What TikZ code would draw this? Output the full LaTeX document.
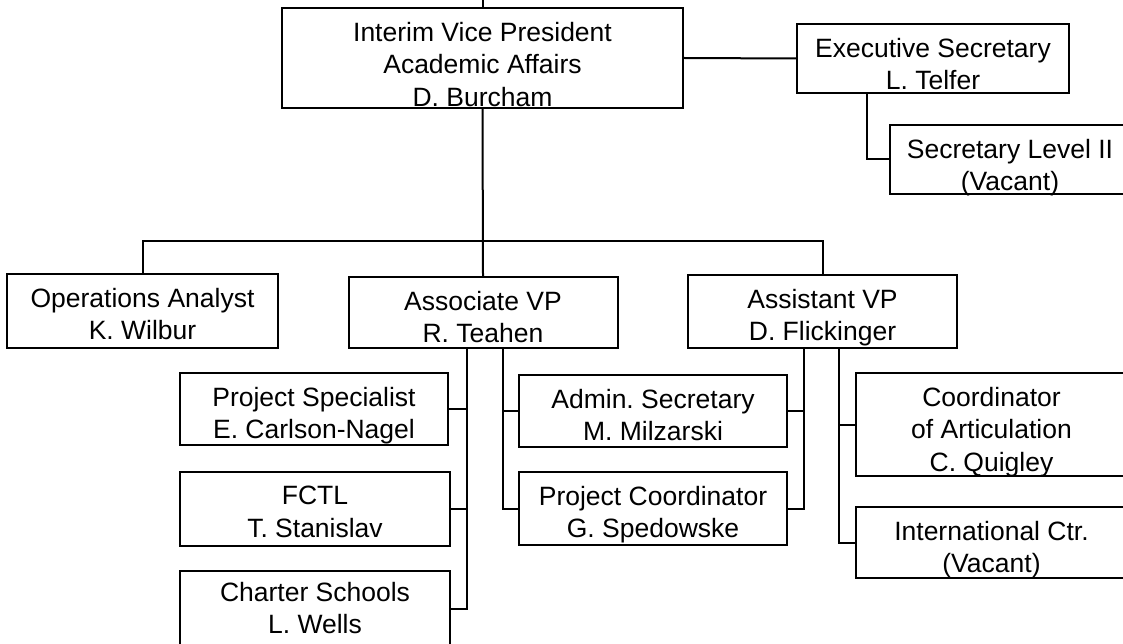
\documentclass[tikz,border=0pt]{standalone}
\usepackage{fontspec}
\setmainfont{Liberation Sans}
\usepackage{tikz}
\frenchspacing

\begin{document}
\begin{tikzpicture}[x=1pt, y=-1pt,
	box/.style={draw, line width=2pt, inner sep=0pt},
	txt/.style={anchor=north, yshift=-15pt, inner sep=0pt, align=center, font=\fontsize{26.5}{32.5}\selectfont},
	link/.style={line width=2pt}]
	\useasboundingbox (0,0) rectangle (1123,644);
	\clip (0,0) rectangle (1123,644);
	\node[box, minimum width=401pt, minimum height=100pt, label={[txt]north:{Interim Vice President\\Academic Affairs\\D. Burcham}}] (vp) at (482.5,58) {};
	\node[box, minimum width=272pt, minimum height=69pt, label={[txt]north:{Executive Secretary\\L. Telfer}}] (exec) at (933,58.5) {};
	\node[box, minimum width=240pt, minimum height=69pt, label={[txt]north:{Secretary Level II\\(Vacant)}}] (seclvl) at (1010,159.5) {};
	\node[box, minimum width=271pt, minimum height=74pt, label={[txt]north:{Operations Analyst\\K. Wilbur}}] (ops) at (142.5,311) {};
	\node[box, minimum width=269pt, minimum height=71pt, label={[txt]north:{Associate VP\\R. Teahen}}] (assoc) at (483,312.5) {};
	\node[box, minimum width=269pt, minimum height=73pt, label={[txt]north:{Assistant VP\\D. Flickinger}}] (asst) at (822.5,311.5) {};
	\node[box, minimum width=268pt, minimum height=72pt, label={[txt]north:{Project Specialist\\E. Carlson-Nagel}}] (spec) at (314,409) {};
	\node[box, minimum width=270pt, minimum height=74pt, label={[txt]north:{FCTL\\T. Stanislav}}] (fctl) at (315,509) {};
	\node[box, minimum width=270pt, minimum height=75pt, label={[txt, yshift=3pt]north:{Charter Schools\\L. Wells}}] (charter) at (315,608.5) {};
	\node[box, minimum width=268pt, minimum height=72pt, label={[txt]north:{Admin. Secretary\\M. Milzarski}}] (admin) at (653,411) {};
	\node[box, minimum width=268pt, minimum height=73pt, label={[txt]north:{Project Coordinator\\G. Spedowske}}] (pcoord) at (653,508.5) {};
	\node[box, minimum width=271pt, minimum height=103pt, label={[txt]north:{Coordinator\\of Articulation\\C. Quigley}}] (artic) at (991.5,424.5) {};
	\node[box, minimum width=271pt, minimum height=71pt, label={[txt]north:{International Ctr.\\(Vacant)}}] (intl) at (991.5,542.5) {};
	\coordinate (up) at (482.5,0);
	\coordinate (bus) at (483,241);
	\coordinate (al) at (467,348);
	\coordinate (ar) at (503,348);
	\coordinate (sl) at (804,348);
	\coordinate (sr) at (839,348);
	\draw[link] (up) -- (vp.north);
	\draw[link] (vp.east) -- (exec.west);
	\draw[link] ([xshift=71pt]exec.south west) |- (seclvl.west);
	\draw[link] (vp.south) -- (assoc.north);
	\draw[link] (ops.north) -- (ops.north |- bus) -- (asst.north |- bus) -- (asst.north);
	\draw[link] (al) |- (charter.east);
	\draw[link] (spec.east) -- (spec.east -| al);
	\draw[link] (fctl.east) -- (fctl.east -| al);
	\draw[link] (ar) |- (pcoord.west);
	\draw[link] (admin.west) -- (admin.west -| ar);
	\draw[link] (sl) |- (pcoord.east);
	\draw[link] (admin.east) -- (admin.east -| sl);
	\draw[link] (sr) |- (intl.west);
	\draw[link] (artic.west) -- (artic.west -| sr);
\end{tikzpicture}
\end{document}
